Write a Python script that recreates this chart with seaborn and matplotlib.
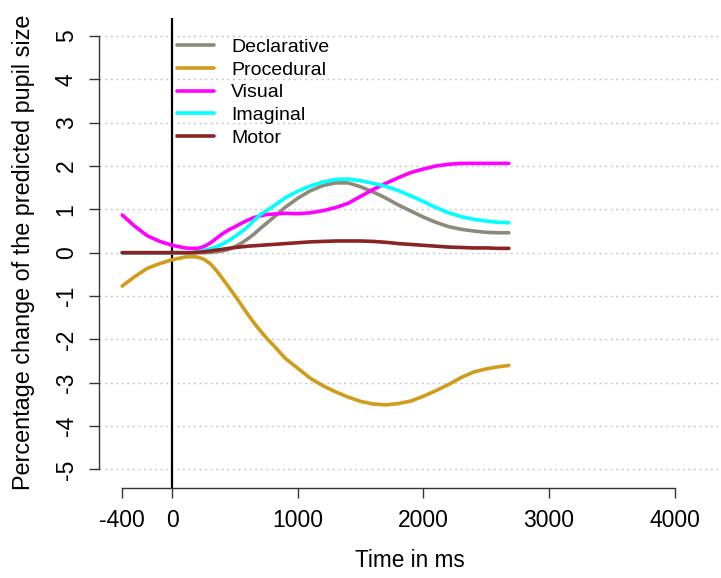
import matplotlib
matplotlib.use("Agg")
import matplotlib.pyplot as plt
import seaborn as sns
import pandas as pd

time_ms = [-400, -300, -200, -100, 0, 50, 100, 150, 200, 250, 300, 350, 400, 450, 500,
           550, 600, 650, 700, 750, 800, 900, 1000, 1100, 1200, 1300, 1400, 1500, 1600,
           1700, 1800, 1900, 2000, 2100, 2200, 2300, 2400, 2500, 2600, 2680]

declarative = [0, 0, 0, 0, 0, 0, 0, 0, 0, 0, 0.005, 0.02, 0.04, 0.08, 0.14,
               0.22, 0.32, 0.43, 0.56, 0.68, 0.80, 1.05, 1.26, 1.43, 1.55, 1.61, 1.61, 1.52, 1.40,
               1.26, 1.10, 0.96, 0.82, 0.70, 0.60, 0.54, 0.50, 0.47, 0.46, 0.46]
procedural = [-0.77, -0.55, -0.36, -0.25, -0.16, -0.13, -0.10, -0.09, -0.10, -0.15, -0.25, -0.41, -0.60, -0.80, -1.00,
              -1.21, -1.42, -1.62, -1.80, -1.97, -2.12, -2.44, -2.67, -2.90, -3.07, -3.21, -3.33, -3.43, -3.49,
              -3.51, -3.48, -3.42, -3.31, -3.18, -3.04, -2.88, -2.75, -2.68, -2.63, -2.60]
visual = [0.87, 0.61, 0.39, 0.26, 0.17, 0.14, 0.11, 0.10, 0.10, 0.14, 0.22, 0.33, 0.44, 0.53, 0.60,
          0.68, 0.75, 0.81, 0.85, 0.88, 0.89, 0.91, 0.90, 0.92, 0.97, 1.04, 1.14, 1.30, 1.46,
          1.60, 1.73, 1.85, 1.93, 2.00, 2.04, 2.06, 2.06, 2.06, 2.06, 2.06]
imaginal = [0, 0, 0, 0, 0, 0, 0, 0, 0.02, 0.05, 0.09, 0.14, 0.20, 0.28, 0.38,
            0.48, 0.60, 0.74, 0.88, 0.97, 1.06, 1.27, 1.42, 1.54, 1.63, 1.69, 1.70, 1.66, 1.60,
            1.53, 1.43, 1.31, 1.18, 1.04, 0.92, 0.83, 0.77, 0.73, 0.70, 0.69]
motor = [0, 0, 0, 0, 0, 0, 0, 0, 0.01, 0.02, 0.04, 0.06, 0.08, 0.10, 0.12,
         0.135, 0.15, 0.16, 0.17, 0.18, 0.19, 0.21, 0.23, 0.25, 0.26, 0.27, 0.27, 0.27, 0.26,
         0.24, 0.21, 0.19, 0.17, 0.15, 0.13, 0.12, 0.11, 0.11, 0.10, 0.10]

series_names = ["Declarative", "Procedural", "Visual", "Imaginal", "Motor"]
series_values = [declarative, procedural, visual, imaginal, motor]
colors = ["#8B8A7B", "#D09C1A", "#FF00FF", "#00FFFF", "#8B2323"]

x_ticks = [-400, 0, 1000, 2000, 3000, 4000]
y_ticks = [-5, -4, -3, -2, -1, 0, 1, 2, 3, 4, 5]

rows = []
for name, vals in zip(series_names, series_values):
    for t, v in zip(time_ms, vals):
        rows.append({"time": t, "value": v, "module": name})
df = pd.DataFrame(rows)

sns.set_style("white")
plt.rcParams["font.family"] = ["Liberation Sans", "DejaVu Sans"]
plt.rcParams["text.color"] = "black"
plt.rcParams["axes.labelcolor"] = "black"
plt.rcParams["xtick.color"] = "black"
plt.rcParams["ytick.color"] = "black"

W, H = 721, 578
left_px, top_px, bottom_px = 98.5, 17.7, 487.7
fig = plt.figure(figsize=(W / 100, H / 100), dpi=100)
ax = fig.add_axes([left_px / W, 1 - bottom_px / H, 1 - left_px / W, (bottom_px - top_px) / H])

for y in y_ticks:
    ax.axhline(y, color="#c8c8c8", lw=1.0, ls=(0, (1.5, 2.5)), zorder=0)

ax.axvline(0, color="black", lw=1.6, zorder=1)

sns.lineplot(data=df, x="time", y="value", hue="module", hue_order=series_names,
             palette=dict(zip(series_names, colors)), lw=2.6, ax=ax, legend=False,
             zorder=2)

ax.set_xlim(-589, 4370)
ax.set_ylim(-5.42, 5.42)

for s in ["top", "right"]:
    ax.spines[s].set_visible(False)
ax.spines["left"].set_bounds(-5, 5)
ax.spines["bottom"].set_bounds(-400, 4000)
for s in ["left", "bottom"]:
    ax.spines[s].set_color("#333333")
    ax.spines[s].set_linewidth(1.0)

ax.set_xticks(x_ticks)
ax.set_xticklabels([str(v) for v in x_ticks])
ax.set_yticks(y_ticks)
ax.set_yticklabels([str(v) for v in y_ticks], rotation=90, va="center")
ax.tick_params(axis="both", direction="out", length=7.5, width=1.0, color="#333333",
               labelcolor="black", labelsize=16.5, left=True, bottom=True)
ax.tick_params(axis="y", pad=7.5)
ax.tick_params(axis="x", pad=8)

ax.set_xlabel("Time in ms", fontsize=16.3, labelpad=12, color="black")
ax.set_ylabel("Percentage change of the predicted pupil size", fontsize=16.8, labelpad=14,
              color="black")

handles = [plt.Line2D([], [], color=c, lw=2.6) for c in colors]
leg = ax.legend(handles, series_names, loc="upper left", bbox_to_anchor=(0.105, 0.985),
                frameon=False, fontsize=14, handlelength=1.9, handletextpad=0.85,
                labelspacing=0.26, borderaxespad=0.3)
for t in leg.get_texts():
    t.set_color("black")

fig.savefig("out.png", dpi=100)
